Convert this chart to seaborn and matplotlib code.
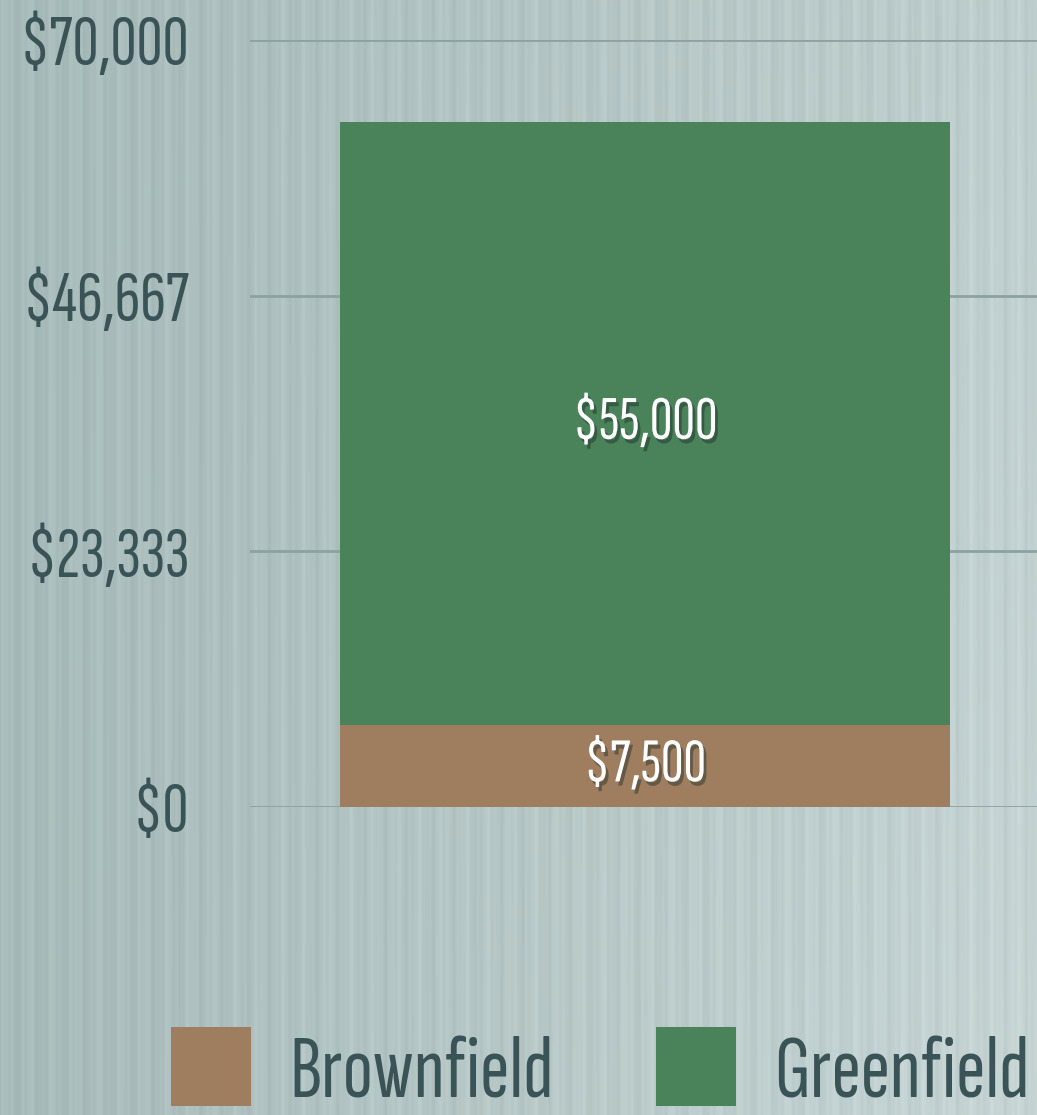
import matplotlib
matplotlib.use("Agg")
import matplotlib.pyplot as plt
import matplotlib.patheffects as pe
from matplotlib.patches import Patch
import numpy as np
import pandas as pd
import seaborn as sns

# data
categories = ["Cost"]
brownfield = [7500]
greenfield = [55000]
tick_values = [0, 23333, 46667, 70000]
tick_labels = ["$0", "$23,333", "$46,667", "$70,000"]
series_names = ["Brownfield", "Greenfield"]
colors = {"Brownfield": "#9e7e5e", "Greenfield": "#4a8259"}

sns.set_style("white")
FONT = ["Sofia Sans Extra Condensed", "Saira ExtraCondensed", "DejaVu Sans"]
plt.rcParams["font.family"] = FONT
plt.rcParams["font.weight"] = 500
TEXT = "#3a5357"

df = pd.DataFrame({"cat": categories, "Brownfield": brownfield, "Greenfield": greenfield})
df["total"] = df["Brownfield"] + df["Greenfield"]

fig = plt.figure(figsize=(10.37, 11.15), dpi=100)

# background: soft grey-teal gradient with faint vertical stripes
bg = fig.add_axes([0, 0, 1, 1], zorder=-10)
W, H = 1037, 1115
xx = np.linspace(0, 1, W)
yy = np.linspace(0, 1, H)
X, Y = np.meshgrid(xx, yy)
left = np.array([0.655, 0.733, 0.728])
right = np.array([0.780, 0.835, 0.835])
t = np.clip(0.75 * X + 0.25 * X * Y, 0, 1)[..., None]
img = left * (1 - t) + right * t
stripes = (0.014 * np.sin(2 * np.pi * xx * W / 23.0)
           + 0.010 * np.sin(2 * np.pi * xx * W / 9.7)
           + 0.006 * np.sin(2 * np.pi * xx * W / 5.3))
img = np.clip(img + stripes[None, :, None], 0, 1)
bg.imshow(img, aspect="auto", extent=[0, 1, 0, 1], origin="upper")
bg.axis("off")

ax = fig.add_axes([250 / W, 1 - 807 / H, 1 - 250 / W, (807 - 40) / H])
ax.patch.set_alpha(0)

sns.barplot(data=df, x="cat", y="total", color=colors["Greenfield"], width=0.8,
            saturation=1, edgecolor="none", linewidth=0, ax=ax, zorder=3)
sns.barplot(data=df, x="cat", y="Brownfield", color=colors["Brownfield"], width=0.8,
            saturation=1, edgecolor="none", linewidth=0, ax=ax, zorder=3)

ax.set_ylim(0, 70000)
ax.set_xlim(-(645 - 250) / 762.5, (1037 - 645) / 762.5)
ax.set_yticks(tick_values)
ax.set_yticklabels(tick_labels)
ax.tick_params(axis="y", length=0, pad=44, labelsize=52, labelcolor=TEXT)
ax.set_xticks([])
ax.set_xlabel("")
ax.set_ylabel("")
for s in ax.spines.values():
    s.set_visible(False)
for v in tick_values:
    ax.axhline(v, color="#8ea1a1", lw=2, zorder=1)

shadow = [pe.SimplePatchShadow(offset=(2, -3), shadow_rgbFace="#1f2b2b", alpha=0.45), pe.Normal()]
for i, row in df.iterrows():
    ax.text(i, row["Brownfield"] + row["Greenfield"] / 2, f"${row['Greenfield']:,.0f}",
            ha="center", va="center", color="white", fontsize=45, zorder=5, path_effects=shadow)
    ax.text(i, row["Brownfield"] / 2, f"${row['Brownfield']:,.0f}",
            ha="center", va="center", color="white", fontsize=45, zorder=5, path_effects=shadow)

handles = [Patch(facecolor=colors[n], edgecolor="none") for n in series_names]
fig.legend(handles, series_names, loc="lower center", bbox_to_anchor=(0.579, -0.071), ncol=2,
           frameon=False, fontsize=64, labelcolor=TEXT, handlelength=0.9, handleheight=1.0,
           handletextpad=0.43, columnspacing=1.15)

fig.savefig("out.png", dpi=100)
